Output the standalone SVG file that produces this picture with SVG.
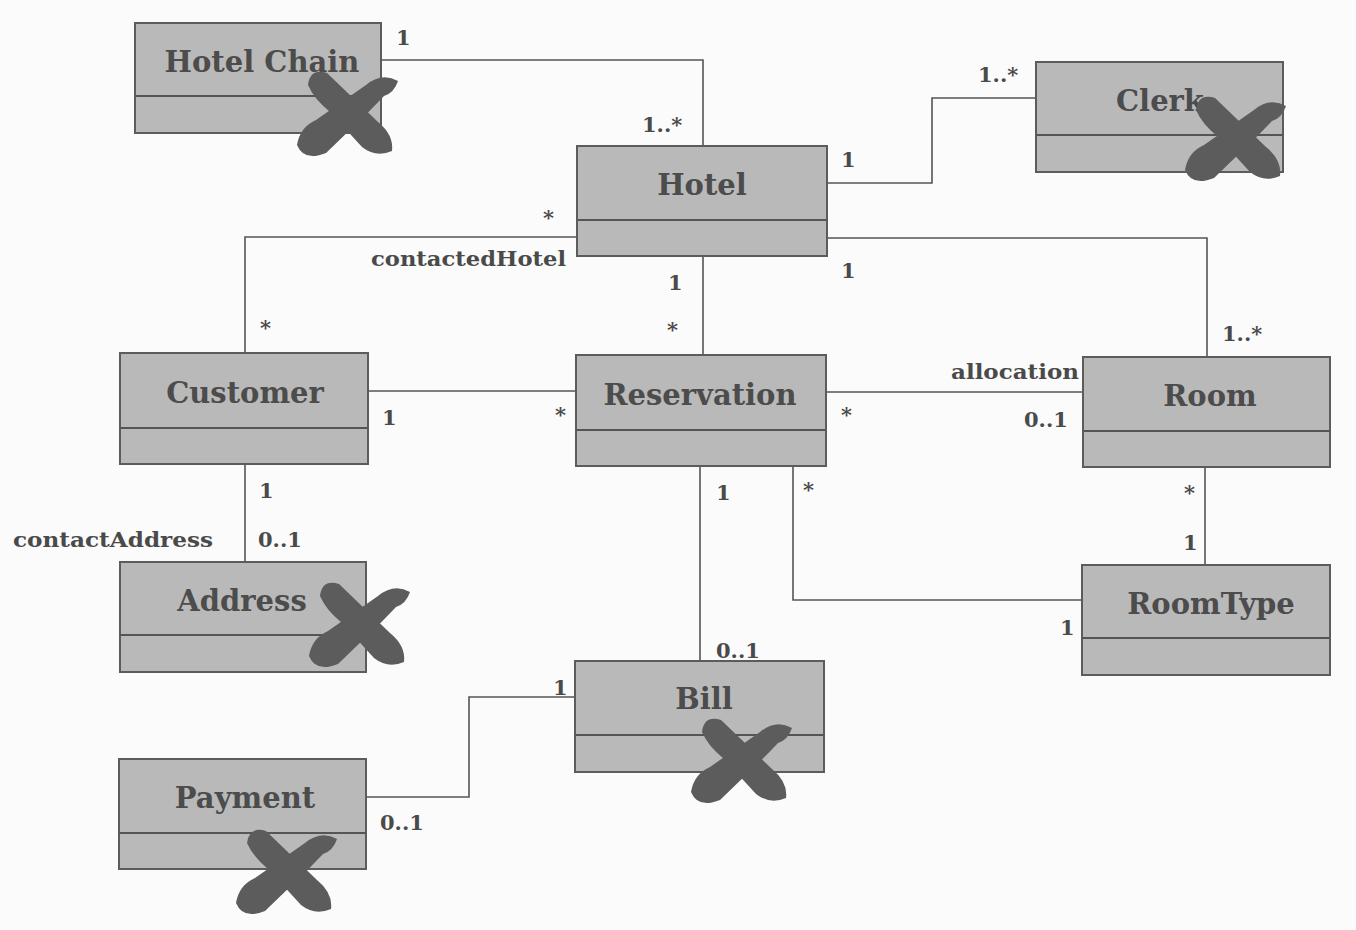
<svg xmlns="http://www.w3.org/2000/svg" width="1356" height="930" viewBox="0 0 1356 930">
<defs>
<style>
.box{fill:#b9b9b9;stroke:#5c5c5c;stroke-width:2}
.div{stroke:#555;stroke-width:2}
.name{font-family:"DejaVu Serif","Liberation Serif",serif;font-weight:bold;font-size:29px;fill:#4c4c4c;text-anchor:middle}
.lbl{font-family:"DejaVu Serif","Liberation Serif",serif;font-weight:bold;font-size:21px;fill:#4a4a4a}
.con{fill:none;stroke:#555;stroke-width:1.6}
.x{fill:#5c5c5c;stroke:none}
</style>
<g id="cross">
<path class="x" d="M -49 30 Q -46 12 -30 5 L 20 -30 Q 36 -43 52 -34 Q 48 -22 38 -19 Q 24 -4 8 11 L -20 38 Q -42 47 -49 30 Z"/>
<path class="x" d="M -38 -30 Q -36 -47 -19 -42 L 32 7 Q 48 20 46 36 Q 30 43 16 32 L -16 -3 Q -32 -16 -38 -30 Z"/>
</g>
</defs>
<rect width="1356" height="930" fill="#fbfbfb"/>
<g id="connectors">
<path class="con" d="M381 60 H703 V146"/>
<path class="con" d="M827 183 H932 V98 H1036"/>
<path class="con" d="M577 237 H245 V353"/>
<path class="con" d="M827 238 H1207 V357"/>
<path class="con" d="M703 256 V355"/>
<path class="con" d="M368 391 H576"/>
<path class="con" d="M826 392 H1083"/>
<path class="con" d="M245 464 V562"/>
<path class="con" d="M700 466 V661"/>
<path class="con" d="M793 466 V600 H1082"/>
<path class="con" d="M1205 467 V565"/>
<path class="con" d="M366 797 H469 V697 H575"/>
<text class="lbl" x="396" y="45">1</text>
<text class="lbl" x="642" y="132">1..*</text>
<text class="lbl" x="841" y="167">1</text>
<text class="lbl" x="978" y="82">1..*</text>
<text class="lbl" x="543" y="225">*</text>
<text class="lbl" x="371" y="266" textLength="195" lengthAdjust="spacingAndGlyphs">contactedHotel</text>
<text class="lbl" x="260" y="335">*</text>
<text class="lbl" x="841" y="278">1</text>
<text class="lbl" x="1222" y="341">1..*</text>
<text class="lbl" x="668" y="290">1</text>
<text class="lbl" x="667" y="337">*</text>
<text class="lbl" x="382" y="425">1</text>
<text class="lbl" x="555" y="422">*</text>
<text class="lbl" x="841" y="422">*</text>
<text class="lbl" x="951" y="379" textLength="128" lengthAdjust="spacingAndGlyphs">allocation</text>
<text class="lbl" x="1024" y="427">0..1</text>
<text class="lbl" x="259" y="498">1</text>
<text class="lbl" x="258" y="547">0..1</text>
<text class="lbl" x="13" y="547" textLength="200" lengthAdjust="spacingAndGlyphs">contactAddress</text>
<text class="lbl" x="716" y="500">1</text>
<text class="lbl" x="716" y="658">0..1</text>
<text class="lbl" x="803" y="497">*</text>
<text class="lbl" x="1184" y="500">*</text>
<text class="lbl" x="1183" y="550">1</text>
<text class="lbl" x="1060" y="635">1</text>
<text class="lbl" x="380" y="830">0..1</text>
<text class="lbl" x="553" y="695">1</text>
</g>
<g id="hotelchain">
<rect class="box" x="135" y="23" width="246" height="110"/>
<line class="div" x1="135" y1="96" x2="381" y2="96"/>
<text class="name" x="262" y="72">Hotel Chain</text>
<use href="#cross" x="346" y="115"/>
</g>
<g id="clerk">
<rect class="box" x="1036" y="62" width="247" height="110"/>
<line class="div" x1="1036" y1="135" x2="1283" y2="135"/>
<text class="name" x="1160" y="111">Clerk</text>
<use href="#cross" x="1234" y="140"/>
</g>
<g id="hotel">
<rect class="box" x="577" y="146" width="250" height="110"/>
<line class="div" x1="577" y1="220" x2="827" y2="220"/>
<text class="name" x="702" y="195">Hotel</text>
</g>
<g id="customer">
<rect class="box" x="120" y="353" width="248" height="111"/>
<line class="div" x1="120" y1="428" x2="368" y2="428"/>
<text class="name" x="245" y="403">Customer</text>
</g>
<g id="reservation">
<rect class="box" x="576" y="355" width="250" height="111"/>
<line class="div" x1="576" y1="430" x2="826" y2="430"/>
<text class="name" x="700" y="405">Reservation</text>
</g>
<g id="room">
<rect class="box" x="1083" y="357" width="247" height="110"/>
<line class="div" x1="1083" y1="431" x2="1330" y2="431"/>
<text class="name" x="1210" y="406">Room</text>
</g>
<g id="address">
<rect class="box" x="120" y="562" width="246" height="110"/>
<line class="div" x1="120" y1="635" x2="366" y2="635"/>
<text class="name" x="242" y="611">Address</text>
<use href="#cross" x="358" y="626"/>
</g>
<g id="roomtype">
<rect class="box" x="1082" y="565" width="248" height="110"/>
<line class="div" x1="1082" y1="638" x2="1330" y2="638"/>
<text class="name" x="1211" y="614">RoomType</text>
</g>
<g id="bill">
<rect class="box" x="575" y="661" width="249" height="111"/>
<line class="div" x1="575" y1="735" x2="824" y2="735"/>
<text class="name" x="704" y="709">Bill</text>
<use href="#cross" x="740" y="762"/>
</g>
<g id="payment">
<rect class="box" x="119" y="759" width="247" height="110"/>
<line class="div" x1="119" y1="833" x2="366" y2="833"/>
<text class="name" x="245" y="808">Payment</text>
<use href="#cross" x="285" y="873"/>
</g>
</svg>
